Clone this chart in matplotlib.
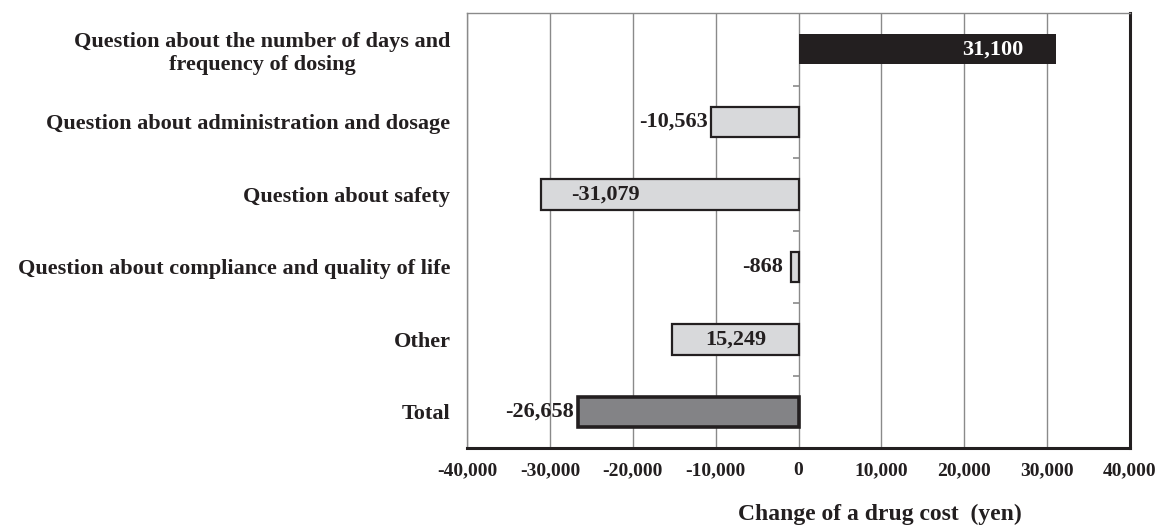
import matplotlib
matplotlib.use("Agg")
import matplotlib.pyplot as plt
import numpy as np

categories = [
    "Question about the number of days and\nfrequency of dosing",
    "Question about administration and dosage",
    "Question about safety",
    "Question about compliance and quality of life",
    "Other",
    "Total",
]
values = [31100, -10563, -31079, -868, -15249, -26658]
value_labels = ["31,100", "-10,563", "-31,079", "-868", "15,249", "-26,658"]
x_ticks = [-40000, -30000, -20000, -10000, 0, 10000, 20000, 30000, 40000]
x_tick_labels = ["-40,000", "-30,000", "-20,000", "-10,000", "0",
                 "10,000", "20,000", "30,000", "40,000"]

plt.rcParams["font.family"] = ["Liberation Serif", "DejaVu Serif"]
plt.rcParams["font.weight"] = "bold"

ink = "#231f20"
grid_c = "#8a8a8a"
fills = [ink, "#d8d9db", "#d8d9db", "#d8d9db", "#d8d9db", "#838386"]
edge_w = [0, 1.6, 1.6, 1.6, 1.6, 2.6]

fig = plt.figure(figsize=(11.65, 5.29), dpi=100)
ax = fig.add_axes([0.4009, 0.153, 0.5691, 0.8224])

y = np.arange(len(categories))
ax.set_xlim(-40000, 40000)
ax.set_ylim(len(categories) - 0.5, -0.5)

# vertical gridlines behind the bars
ax.set_xticks(x_ticks)
ax.xaxis.grid(True, color=grid_c, linewidth=1.0)
ax.set_axisbelow(True)

for yi, v, fc, lw in zip(y, values, fills, edge_w):
    ax.barh(yi, v, height=0.42, color=fc,
            edgecolor=ink if lw > 0 else fc, linewidth=lw, zorder=3)

# small separators on the zero line between categories
bounds = y[:-1] + 0.5
ax.hlines(bounds, -700, 0, color=grid_c, linewidth=1.2, zorder=2)

# value labels
label_fs = 16
placements = [
    dict(dx=-24, ha="right", color="white"),
    dict(dx=-2, ha="right", color=ink),
    dict(dx=22, ha="left", color=ink),
    dict(dx=-6, ha="right", color=ink),
    None,
    dict(dx=-3, ha="right", color=ink),
]
for yi, v, txt, p in zip(y, values, value_labels, placements):
    if p is None:
        ax.text(v / 2, yi, txt, ha="center", va="center",
                fontsize=label_fs, fontweight="bold", color=ink, zorder=4)
    else:
        ax.annotate(txt, (v, yi), xytext=(p["dx"], 0),
                    textcoords="offset points", ha=p["ha"], va="center",
                    fontsize=label_fs, fontweight="bold",
                    color=p["color"], zorder=4)

ax.set_yticks(y)
ax.set_yticklabels(categories, fontsize=16, fontweight="bold",
                   color=ink, multialignment="center")
ax.tick_params(axis="y", length=0, pad=12)
ax.set_xticklabels(x_tick_labels, fontsize=14, fontweight="bold", color=ink)
ax.tick_params(axis="x", length=0, pad=10)

for side in ("left", "top"):
    ax.spines[side].set_color(grid_c)
    ax.spines[side].set_linewidth(1.0)
for side in ("right", "bottom"):
    ax.spines[side].set_color(ink)
    ax.spines[side].set_linewidth(2.2)

fig.text(880 / 1165, 1 - 514 / 529, "Change of a drug cost  (yen)",
         ha="center", va="center", fontsize=17, fontweight="bold", color=ink)

fig.savefig("out.png", dpi=100, facecolor="white")
